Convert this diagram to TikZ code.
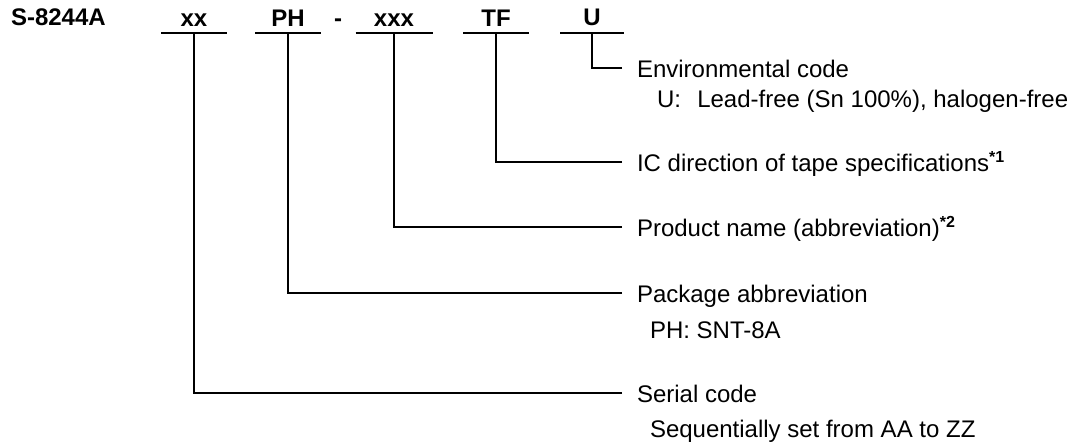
\documentclass[tikz,border=0pt]{standalone}
\usepackage{fontspec}
\setmainfont{Liberation Sans}
\usetikzlibrary{positioning}

\tikzset{
  code/.style={font=\fontsize{12}{14}\selectfont\bfseries, anchor=south,
    inner xsep=0pt, inner ysep=3pt, minimum width=32pt},
  desc/.style={font=\fontsize{12}{14}\selectfont, anchor=west,
    inner xsep=7pt, inner ysep=0pt, text height=9pt, text depth=0pt},
  link/.style={to path={-| (\tikztotarget)}}
}

\begin{document}
\begin{tikzpicture}[x=0.5pt,y=-0.5pt,line width=1pt]
  \useasboundingbox (0,0) rectangle (1081,441);
  % part number
  \node [code, anchor=south west, minimum width=0pt] (part) at (10,33) {S-8244A};
  \node [code] (xx) at (194,33) {xx};
  \node [code] (ph) at (288,33) {PH};
  \node [code, minimum width=0pt] (dash) at (338,33) {-};
  \node [code, minimum width=37.5pt] (xxx) at (394,33) {xxx};
  \node [code] (tf) at (496,33) {TF};
  \node [code, minimum width=31pt] (u) at (592,33) {U};
  \draw (xx.south west) -- (xx.south east)
        (ph.south west) -- (ph.south east)
        (xxx.south west) -- (xxx.south east)
        (tf.south west) -- (tf.south east)
        (u.south west) -- (u.south east);
  % explanations
  \node [desc] (env) at (622,68) {Environmental code}
    edge [link] (u.south);
  \node [desc, below=15pt of env.west, anchor=west, xshift=10pt] (envu)
    {U:\hspace{0.4em} Lead-free (Sn 100\%), halogen-free};
  \node [desc] (icdir) at (622,162) {IC direction of tape specifications\textsuperscript{\bfseries *1}}
    edge [link] (tf.south);
  \node [desc] (prod) at (622,227) {Product name (abbreviation)\textsuperscript{\bfseries *2}}
    edge [link] (xxx.south);
  \node [desc] (pkg) at (622,293) {Package abbreviation}
    edge [link] (ph.south);
  \node [desc, below=18pt of pkg.west, anchor=west, xshift=6.5pt] (pkgph) {PH: SNT-8A};
  \node [desc] (ser) at (622,393) {Serial code}
    edge [link] (xx.south);
  \node [desc, below=17.5pt of ser.west, anchor=west, xshift=6.5pt] (serseq) {Sequentially set from AA to ZZ};
\end{tikzpicture}
\end{document}
